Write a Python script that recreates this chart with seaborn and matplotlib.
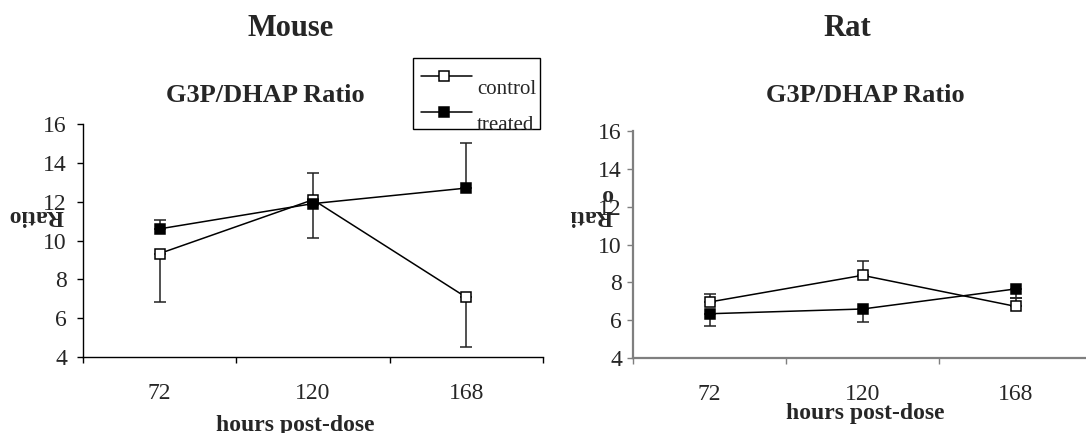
import numpy as np
import pandas as pd
import matplotlib
matplotlib.use("Agg")
import matplotlib.pyplot as plt
from matplotlib.lines import Line2D
from matplotlib.patches import Rectangle
import seaborn as sns

# ---- data -------------------------------------------------------------
hours = ["72", "120", "168"]
series = ["control", "treated"]

mouse_control = [9.33, 12.10, 7.07]
mouse_treated = [10.60, 11.90, 12.70]
mouse_control_err_low = [2.50, 1.95, 2.54]
mouse_treated_err_high = [0.45, 1.60, 2.33]

rat_control = [6.96, 8.37, 6.73]
rat_treated = [6.34, 6.59, 7.65]
rat_control_err_high = [0.44, 0.78, 0.45]
rat_treated_err_low = [0.67, 0.71, 0.50]

y_ticks = [4, 6, 8, 10, 12, 14, 16]

# ---- style ------------------------------------------------------------
sns.set_theme(style="white")
plt.rcParams["font.family"] = ["Liberation Serif", "DejaVu Serif"]
plt.rcParams["mathtext.default"] = "regular"

W, H = 1086, 433
fig = plt.figure(figsize=(W / 100, H / 100), dpi=100)


def fx(x):
    return x / W


def fy(y):
    return 1 - y / H


def panel(rect, control, treated, err_ctrl, err_trt, spine_color, spine_w, ypad):
    ax = fig.add_axes(rect)
    pos = np.arange(len(hours))
    df = pd.DataFrame({
        "pos": np.concatenate([pos, pos]),
        "value": control + treated,
        "group": [series[0]] * len(hours) + [series[1]] * len(hours),
    })

    ax.errorbar(pos, control, yerr=err_ctrl, fmt="none", ecolor="#222222",
                elinewidth=1.1, capsize=4.5, capthick=1.1, zorder=2)
    ax.errorbar(pos, treated, yerr=err_trt, fmt="none", ecolor="#222222",
                elinewidth=1.1, capsize=4.5, capthick=1.1, zorder=2)

    sns.lineplot(data=df[df.group == "control"], x="pos", y="value", ax=ax,
                 color="black", lw=1.1, marker="s", markersize=7.5,
                 markerfacecolor="white", markeredgecolor="black",
                 markeredgewidth=1.1, zorder=3, legend=False)
    sns.lineplot(data=df[df.group == "treated"], x="pos", y="value", ax=ax,
                 color="black", lw=1.1, marker="s", markersize=7.5,
                 markerfacecolor="black", markeredgecolor="black",
                 markeredgewidth=1.1, zorder=4, legend=False)

    ax.set_ylim(4, 16)
    ax.set_xlim(-0.5, 2.5)
    ax.set_yticks(y_ticks)
    ax.set_yticklabels([str(t) for t in y_ticks], fontsize=17)
    ax.set_xticks([-0.5, 0.5, 1.5, 2.5])
    ax.set_xticklabels([])
    ax.set_xticks(pos, minor=True)
    ax.set_xticklabels(hours, minor=True, fontsize=17)
    ax.tick_params(axis="x", which="major", direction="out", length=4.3,
                   width=1, color=spine_color, bottom=True)
    ax.tick_params(axis="x", which="minor", length=0, pad=18.5)
    ax.tick_params(axis="y", direction="out", length=4.3, width=1,
                   color=spine_color, left=True, pad=ypad)
    for s in ("top", "right"):
        ax.spines[s].set_visible(False)
    for s in ("left", "bottom"):
        ax.spines[s].set_color(spine_color)
        ax.spines[s].set_linewidth(spine_w)
    ax.set_ylabel("")
    ax.set_facecolor("white")
    return ax


ax_m = panel([fx(83), fy(357), fx(543) - fx(83), fy(124) - fy(357)],
             mouse_control, mouse_treated,
             [mouse_control_err_low, [0, 0, 0]],
             [[0, 0, 0], mouse_treated_err_high],
             "black", 1.0, 7.2)
ax_r = panel([fx(633), fy(358), fx(1092) - fx(633), fy(131) - fy(358)],
             rat_control, rat_treated,
             [[0, 0, 0], rat_control_err_high],
             [rat_treated_err_low, [0, 0, 0]],
             "#7f7f7f", 1.6, 3.6)

# axis labels
ax_m.set_xlabel("hours post-dose", fontsize=17, fontweight="bold")
ax_m.xaxis.label.set_va("center")
ax_m.xaxis.set_label_coords((295 - 83) / 460, (357 - 425) / 233)
ax_r.set_xlabel("hours post-dose", fontsize=17, fontweight="bold")
ax_r.xaxis.label.set_va("center")
ax_r.xaxis.set_label_coords((865 - 633) / 459, (358 - 413) / 227)

fig.text(fx(36), fy(215), "Ratio", rotation=180, fontsize=17,
         fontweight="bold", ha="center", va="center")
fig.text(fx(591), fy(205), "Rati\no", rotation=180, fontsize=17,
         fontweight="bold", ha="center", va="center", multialignment="left",
         linespacing=1.0)

# titles
fig.text(fx(291), fy(36), "Mouse", fontsize=22, fontweight="bold",
         ha="center", va="baseline")
fig.text(fx(847), fy(36), "Rat", fontsize=22, fontweight="bold",
         ha="center", va="baseline")
fig.text(fx(265), fy(102), "G3P/DHAP Ratio", fontsize=19, fontweight="bold",
         ha="center", va="baseline")
fig.text(fx(865), fy(102), "G3P/DHAP Ratio", fontsize=19, fontweight="bold",
         ha="center", va="baseline")

# legend box
fig.add_artist(Rectangle((fx(413), fy(129)), fx(540) - fx(413),
                         fy(58) - fy(129), transform=fig.transFigure,
                         facecolor="white", edgecolor="black", lw=1.0,
                         zorder=5))
for label, face, ly in ((series[0], "white", 76), (series[1], "black", 112)):
    fig.add_artist(Line2D([fx(421), fx(472)], [fy(ly), fy(ly)],
                          transform=fig.transFigure, color="black", lw=1.1,
                          zorder=6))
    fig.add_artist(Line2D([fx(444)], [fy(ly)], transform=fig.transFigure,
                          marker="s", markersize=7.5, markerfacecolor=face,
                          markeredgecolor="black", markeredgewidth=1.1,
                          linestyle="none", zorder=7))
    fig.text(fx(477), fy(ly + 13), label, fontsize=15, ha="left",
             va="center", zorder=8)

fig.savefig("out.png", dpi=100, facecolor="white")
